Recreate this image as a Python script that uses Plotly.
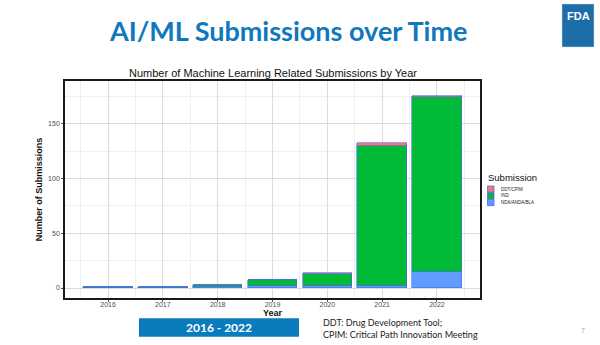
import plotly.graph_objects as go

years = [2016, 2017, 2018, 2019, 2020, 2021, 2022]
nda_anda_bla = [0, 0, 1, 2, 2, 2, 15]
ind = [1, 1, 2, 5, 11, 128, 159]
ddt_cpim = [0, 0, 0, 0, 1, 2, 1]

series = [
    ("NDA/ANDA/BLA", nda_anda_bla, "#619CFF"),
    ("IND", ind, "#00BA38"),
    ("DDT/CPIM", ddt_cpim, "#F8766D"),
]
outline = "#4f63f0"

fig = go.Figure()
for name, vals, col in series:
    fig.add_trace(go.Bar(
        x=years, y=vals, name=name, width=0.9,
        marker=dict(color=col, line=dict(color=outline, width=0.6)),
        showlegend=False,
    ))

font_chart = "Liberation Sans, Arial, sans-serif"
fig.update_layout(
    width=600, height=345,
    margin=dict(l=65, r=120, t=81, b=47),
    paper_bgcolor="white", plot_bgcolor="white",
    barmode="stack", bargap=0,
    showlegend=False,
    font=dict(family=font_chart, color="#4d4d4d"),
    xaxis=dict(
        range=[2015.215, 2022.785], tickmode="array", tickvals=years,
        ticktext=[str(y) for y in years],
        tickfont=dict(size=7, color="#4d4d4d"),
        ticks="outside", ticklen=2, tickcolor="#555", tickwidth=0.6,
        ticklabelstandoff=-3,
        showgrid=True, gridcolor="#dcdcdc", gridwidth=0.8,
        minor=dict(tickvals=[y + 0.5 for y in [2015] + years], showgrid=True,
                   gridcolor="#f0f0f0", gridwidth=0.6, ticks=""),
        showline=True, linecolor="#1a1a1a", linewidth=1.6, mirror=True,
        zeroline=False,
        title=dict(text="<b>Year</b>", font=dict(size=9, color="#111"), standoff=0),
    ),
    yaxis=dict(
        range=[-9.1, 189], tickvals=[0, 50, 100, 150],
        tickfont=dict(size=7, color="#4d4d4d"),
        ticks="outside", ticklen=2, tickcolor="#555", tickwidth=0.6,
        showgrid=True, gridcolor="#dcdcdc", gridwidth=0.8,
        minor=dict(tickvals=[25, 75, 125, 175], showgrid=True,
                   gridcolor="#f0f0f0", gridwidth=0.6, ticks=""),
        showline=True, linecolor="#1a1a1a", linewidth=1.6, mirror=True,
        zeroline=False,
        title=dict(text="<b>Number of Submissions</b>", font=dict(size=9, color="#111"), standoff=4),
    ),
)

ann = []
shapes = []


def px(x):
    return (x - 65) / 415


def py(y):
    return (298 - y) / 217


# Page title
ann.append(dict(text="<b>AI/ML Submissions over Time</b>", xref="paper", yref="paper",
                x=px(288), y=py(30), xanchor="center", yanchor="middle",
                showarrow=False, font=dict(family="Lato, sans-serif", size=27, color="#1078BE")))
# Chart title
ann.append(dict(text="Number of Machine Learning Related Submissions by Year", xref="paper", yref="paper",
                x=0.5, y=py(73), xanchor="center", yanchor="middle", showarrow=False,
                font=dict(family=font_chart, size=11, color="#111")))

# FDA logo
shapes.append(dict(type="rect", xref="paper", yref="paper", x0=px(562), x1=px(594), y0=py(47), y1=py(4),
                   fillcolor="#1D6DA8", line=dict(width=0.5, color="#cfdbe6"), layer="above"))
ann.append(dict(text="<b>FDA</b>", xref="paper", yref="paper", x=px(578), y=py(16),
                xanchor="center", yanchor="middle", showarrow=False,
                font=dict(family="Liberation Sans Narrow, Liberation Sans, sans-serif", size=11, color="white")))

# Legend (manual)
ann.append(dict(text="Submission", xref="paper", yref="paper", x=px(486), y=py(177),
                xanchor="left", yanchor="middle", showarrow=False,
                font=dict(family=font_chart, size=9.5, color="#111")))
legend_rows = [("DDT/CPIM", "#F8766D"), ("IND", "#00BA38"), ("NDA/ANDA/BLA", "#619CFF")]
for i, (name, col) in enumerate(legend_rows):
    y0 = 186 + i * 6.7
    shapes.append(dict(type="rect", xref="paper", yref="paper", x0=px(487.5), x1=px(494),
                       y0=py(y0 + 6.2), y1=py(y0), fillcolor=col, line=dict(color=outline, width=0.8)))
    ann.append(dict(text=name, xref="paper", yref="paper", x=px(499), y=py(y0 + 3.2),
                    xanchor="left", yanchor="middle", showarrow=False,
                    font=dict(family=font_chart, size=4.5, color="#222")))

# Bottom date box
shapes.append(dict(type="rect", xref="paper", yref="paper", x0=px(139), x1=px(299), y0=py(336.7), y1=py(318.3),
                   fillcolor="#0A7BBD", line=dict(width=0)))
ann.append(dict(text="<b>2016 - 2022</b>", xref="paper", yref="paper", x=px(219), y=py(327.5),
                xanchor="center", yanchor="middle", showarrow=False,
                font=dict(family="Lato, sans-serif", size=12, color="white")))
# Footnote
ann.append(dict(text="DDT: Drug Development Tool;<br>CPIM: Critical Path Innovation Meeting",
                xref="paper", yref="paper", x=px(321), y=py(328), xanchor="left", yanchor="middle",
                align="left", showarrow=False,
                font=dict(family="Lato, sans-serif", size=9, color="#222")))
# Page number
ann.append(dict(text="7", xref="paper", yref="paper", x=px(583), y=py(330), xanchor="center", yanchor="middle",
                showarrow=False, font=dict(family=font_chart, size=7, color="#8aa4c8")))

fig.update_layout(annotations=ann, shapes=shapes)
fig.write_html("out.html")
